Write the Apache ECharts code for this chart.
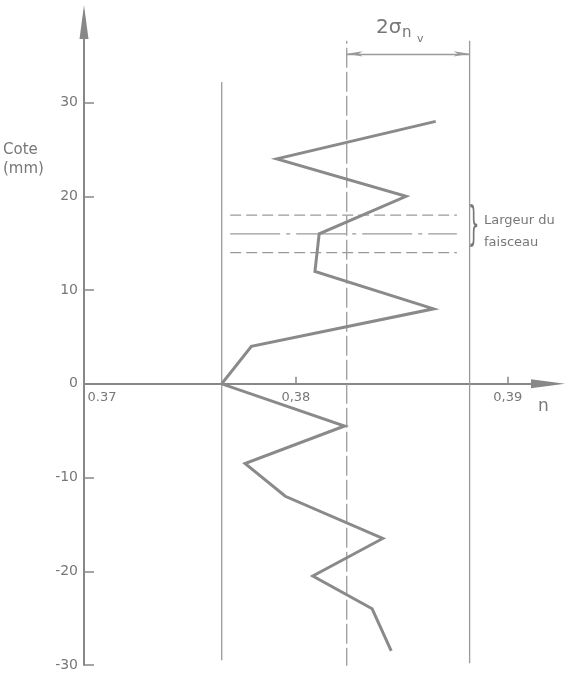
<!DOCTYPE html>
<html>
<head>
<meta charset="utf-8">
<script src="https://cdn.jsdelivr.net/npm/echarts@6/dist/echarts.min.js"></script>
<style>
html,body{margin:0;padding:0;background:#fff;}
#chart{width:580px;height:674px;}
</style>
</head>
<body>
<div id="chart"></div>
<script>
// ---- data ----
const coteValues = [28, 24, 20, 16, 12, 8, 4, 0, -4.5, -8.5, -12, -16.5, -20.5, -24, -28.5];
const nValues = [0.3866, 0.3791, 0.3852, 0.3811, 0.3809, 0.3865, 0.3779, 0.3765, 0.3823, 0.3776, 0.3795, 0.3841, 0.3808, 0.3836, 0.3845];

const yTickValues = [-30, -20, -10, 0, 10, 20, 30];
const yTickLabels = ['-30', '-20', '-10', '0', '10', '20', '30'];
const xTickValues = [0.37, 0.38, 0.39];
const xTickLabels = ['0.37', '0,38', '0,39'];

// reference lines: left limit, mean, right limit (n)
const refLineN = [0.3765, 0.3824, 0.3882];
const refLineLow = [-29.5, -30.3, -29.8];
const refLineHigh = [32.2, 36.6, 36.6];

// beam width lines (cote) and their n extent
const beamCote = [18, 16, 14];
const beamExtentN = [0.3769, 0.3876];

const sigmaBracketCote = 35.2;

// ---- chart ----
const chart = echarts.init(document.getElementById('chart'), null, {renderer: 'canvas'});
const FONT = 'DejaVu Sans';
const TXT = '#777';
const AX = '#888';
const THIN = '#9a9a9a';

const Y_MIN = -30, Y_MAX = 38.6;
const GRID = {left: 84, right: 32, top: 22, bottom: 9};
const plotH = 674 - GRID.top - GRID.bottom;
// x axis sits at cote 0: shift it up from the grid bottom
const xAxisOffset = -plotH * (0 - Y_MIN) / (Y_MAX - Y_MIN);

function findLabel(v, vals, labels) {
  for (let i = 0; i < vals.length; i++) if (Math.abs(v - vals[i]) < 1e-7) return labels[i];
  return '';
}

const series = [];
series.push({
  type: 'line', name: 'profil', z: 5,
  data: nValues.map((n, i) => [n, coteValues[i]]),
  symbol: 'none',
  lineStyle: {color: '#8a8a8a', width: 3, join: 'miter'}
});
const refTypes = ['solid', [20, 4], 'solid'];
refLineN.forEach((n, i) => {
  const s = {
    type: 'line', symbol: 'none', z: 3,
    data: [[n, refLineLow[i]], [n, refLineHigh[i]]],
    lineStyle: {color: THIN, width: 1.3, type: refTypes[i]}
  };
  if (i === 1) {
    s.markLine = {
      silent: true,
      symbol: ['arrow', 'arrow'],
      symbolSize: [4, 16],
      label: {show: false},
      lineStyle: {color: THIN, width: 1.3, type: 'solid'},
      data: [[{coord: [refLineN[1], sigmaBracketCote]}, {coord: [refLineN[2], sigmaBracketCote]}]]
    };
  }
  series.push(s);
});
const beamTypes = [[11, 5], [50, 6, 4, 6], [11, 5]];
beamCote.forEach((c, i) => {
  series.push({
    type: 'line', symbol: 'none', z: 3,
    data: [[beamExtentN[0], c], [beamExtentN[1], c]],
    lineStyle: {color: THIN, width: 1.3, type: beamTypes[i]}
  });
});

const option = {
  animation: false,
  backgroundColor: '#fff',
  textStyle: {fontFamily: FONT},
  grid: GRID,
  xAxis: {
    type: 'value', min: 0.37, max: 0.3919, position: 'bottom', offset: xAxisOffset,
    axisLine: {onZero: false, symbol: ['none', 'triangle'], symbolSize: [9, 34],
      lineStyle: {color: AX, width: 2}},
    axisTick: {show: true, inside: true, length: 7, customValues: xTickValues.slice(1),
      lineStyle: {color: AX, width: 1.5}},
    axisLabel: {
      customValues: xTickValues, margin: 7, color: TXT, fontSize: 13, fontFamily: FONT,
      formatter: function (v) {
        const t = findLabel(v, xTickValues, xTickLabels);
        return Math.abs(v - 0.37) < 1e-7 ? '{f|' + t + '}' : t;
      },
      rich: {f: {padding: [0, 0, 0, 36], color: TXT, fontSize: 13, fontFamily: FONT}}
    },
    splitLine: {show: false}
  },
  yAxis: {
    type: 'value', min: Y_MIN, max: Y_MAX,
    axisLine: {onZero: false, symbol: ['none', 'triangle'], symbolSize: [9, 34],
      lineStyle: {color: AX, width: 2}},
    axisTick: {show: true, inside: true, length: 10, customValues: yTickValues,
      lineStyle: {color: AX, width: 1.5}},
    axisLabel: {
      customValues: yTickValues, margin: 6, color: TXT, fontSize: 14, fontFamily: FONT,
      formatter: v => findLabel(v, yTickValues, yTickLabels)
    },
    splitLine: {show: false}
  },
  series: series,
  graphic: [
    {type: 'text', left: 3, top: 141, style: {text: 'Cote\n(mm)', fontSize: 15, lineHeight: 19, fill: TXT, fontFamily: FONT}},
    {type: 'text', left: 538, top: 398, style: {text: 'n', fontSize: 17, fill: TXT, fontFamily: FONT}},
    {type: 'text', left: 376, top: 18, style: {text: '2σ', fontSize: 20, fill: TXT, fontFamily: FONT}},
    {type: 'text', left: 402, top: 26, style: {text: 'n', fontSize: 15, fill: TXT, fontFamily: FONT}},
    {type: 'text', left: 417, top: 34, style: {text: 'v', fontSize: 11, fill: TXT, fontFamily: FONT}},
    {type: 'text', x: 468, y: 203, scaleY: 2.6, style: {text: '}', fontSize: 18, fill: TXT, fontFamily: FONT}},
    {type: 'text', left: 484, top: 214, style: {text: 'Largeur du', fontSize: 13, fill: TXT, fontFamily: FONT}},
    {type: 'text', left: 484, top: 236, style: {text: 'faisceau', fontSize: 13, fill: TXT, fontFamily: FONT}}
  ]
};
chart.setOption(option);
</script>
</body>
</html>
